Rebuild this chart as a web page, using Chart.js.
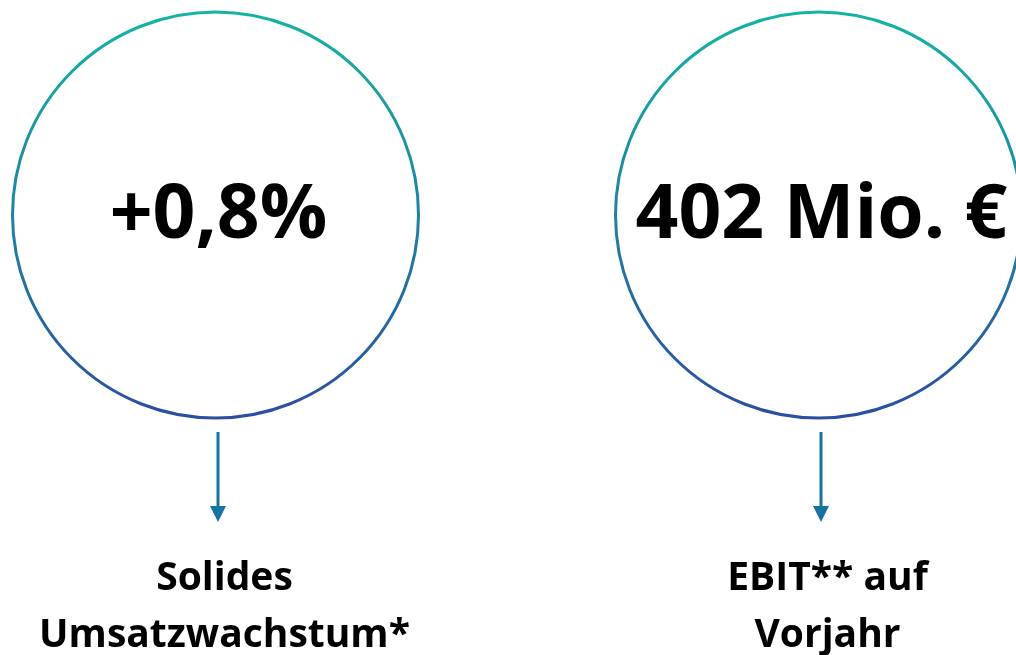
<!DOCTYPE html>
<html>
<head>
<meta charset="utf-8">
<script src="https://cdn.jsdelivr.net/npm/chart.js@4.4.0/dist/chart.umd.min.js"></script>
<style>
    html, body { margin: 0; padding: 0; background: #ffffff; }
    canvas { display: block; }
</style>
</head>
<body>
<canvas id="kpiChart" width="1016" height="655"></canvas>
<script>
// KPI data //
var kpiKeys = ['Umsatz', 'EBIT'];
var kpiValues = ['+0,8%', '402 Mio. €'];
var kpiCaptions = [
    ['Solides', 'Umsatzwachstum*'],
    ['EBIT** auf', 'Vorjahr'],
];
var kpiLevel = [0, 0];

var FONT = '"Open Sans", "Noto Sans", sans-serif';

function ringGradient(c) {
    var chart = c.chart;
    if (!chart.chartArea) {
        return '#1f81a2';
    }
    var cy = chart.scales.y.getPixelForValue(0);
    var g = chart.ctx.createLinearGradient(0, cy - 205, 0, cy + 205);
    g.addColorStop(0, '#14b4a4');
    g.addColorStop(1, '#2a4ea0');
    return g;
}

// text, arrows and captions under each ring
var kpiLabels = {
    id: 'kpiLabels',
    afterDatasetsDraw: function (chart) {
        var ctx = chart.ctx;
        var meta = chart.getDatasetMeta(0);
        meta.data.forEach(function (pt, i) {
            var x = pt.x;
            var y = pt.y;
            ctx.save();
            ctx.fillStyle = '#000000';
            ctx.textAlign = 'center';
            ctx.textBaseline = 'alphabetic';
            ctx.font = 'bold 75px ' + FONT;
            ctx.fillText(kpiValues[i], x + 3, y + 23);

            // arrow
            var ax = x + 2.5;
            ctx.strokeStyle = '#1473a0';
            ctx.fillStyle = '#1473a0';
            ctx.lineWidth = 3;
            ctx.beginPath();
            ctx.moveTo(ax, y + 217);
            ctx.lineTo(ax, y + 293);
            ctx.stroke();
            ctx.beginPath();
            ctx.moveTo(ax - 8, y + 291);
            ctx.lineTo(ax + 8, y + 291);
            ctx.lineTo(ax, y + 307);
            ctx.closePath();
            ctx.fill();

            // caption
            ctx.fillStyle = '#000000';
            ctx.font = 'bold 39px ' + FONT;
            kpiCaptions[i].forEach(function (line, j) {
                ctx.fillText(line, x + 9, y + 375 + j * 57);
            });
            ctx.restore();
        });
    }
};

var ctx = document.getElementById('kpiChart').getContext('2d');
var kpiChart = new Chart(ctx, {
    type: 'line',
    data: {
        labels: kpiKeys,
        datasets: [{
            data: kpiLevel,
            showLine: false,
            clip: false,
            pointRadius: 203,
            pointHoverRadius: 203,
            pointBorderWidth: 3,
            pointHoverBorderWidth: 3,
            pointBackgroundColor: 'rgba(0,0,0,0)',
            pointBorderColor: ringGradient,
        }],
    },
    plugins: [kpiLabels],
    options: {
        responsive: false,
        animation: false,
        events: [],
        layout: {
            autoPadding: false,
            padding: {
                left: 215.5,
                right: 197.5,
                top: 0,
                bottom: 225
            }
        },
        scales: {
            x: {
                type: 'category',
                display: false,
                offset: false,
            },
            y: {
                display: false,
                min: -1,
                max: 1,
            },
        },
        plugins: {
            legend: {
                display: false,
            },
            tooltip: {
                enabled: false,
            },
        }
    }
});
</script>
</body>
</html>
